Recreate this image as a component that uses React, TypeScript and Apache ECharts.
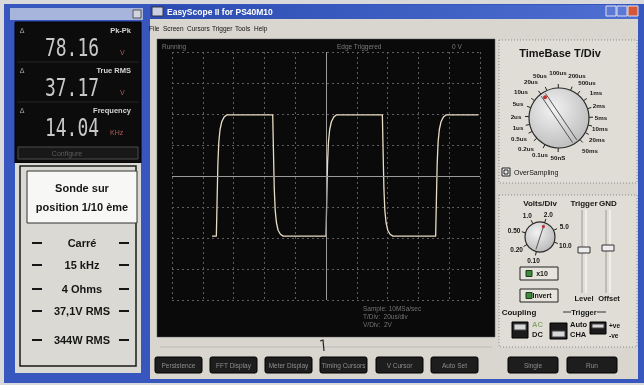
import React, { useEffect, useRef } from "react";
import * as echarts from "echarts";

// ---------- data ----------
// oscilloscope trace: time (µs, 20 µs/div) and volts (20 V/div with x10 probe)
const traceTimeUs = [
  26, 28.8, 29.3, 29.8, 30.4, 31.2, 32.3, 33.8, 35.5,
  65.4, 65.9, 66.4, 67.0, 67.8, 68.9, 70.4, 72.2,
  100.0, 100.5, 101.0, 101.6, 102.4, 103.5, 105.0, 106.7,
  136.6, 137.1, 137.6, 138.2, 139.0, 140.1, 141.6, 143.4,
  171.2, 171.7, 172.2, 172.8, 173.6, 174.7, 176.2, 177.9,
  199,
];
const traceVolts = [
  -38.8, -38.8, -15, 8, 22, 30, 35, 38, 39.4,
  39.4, 15, -8, -22, -30, -35, -37.6, -38.8,
  -38.8, -15, 8, 22, 30, 35, 38, 39.4,
  39.4, 15, -8, -22, -30, -35, -37.6, -38.8,
  -38.8, -15, 8, 22, 30, 35, 38, 39.4,
  39.4,
];
const timeAxis = { min: 0, max: 200, interval: 20 };
const voltAxis = { min: -80, max: 80, interval: 20 };
const triggerTimeUs = 100;

const readoutLabels = ["Pk-Pk", "True RMS", "Frequency"];
const readoutValues = ["78.16", "37.17", "14.04"];
const readoutUnits = ["V", "V", "KHz"];
const probeNote = ["Sonde sur", "position 1/10 ème"];
const signalNotes = ["Carré", "15 kHz", "4 Ohms", "37,1V RMS", "344W RMS"];
const menuItems = ["File", "Screen", "Cursors", "Trigger", "Tools", "Help"];
const bottomButtons = ["Persistence", "FFT Display", "Meter Display", "Timing Cursors", "V Cursor", "Auto Set"];
const runButtons = ["Single", "Run"];
const timeBaseLabels = ["0.1us", "0.2us", "0.5us", "1us", "2us", "5us", "10us", "20us", "50us", "100us", "200us", "500us", "1ms", "2ms", "5ms", "10ms", "20ms", "50ms", "50nS"];
const voltsLabels = ["0.10", "0.20", "0.50", "1.0", "2.0", "5.0", "10.0"];
const scopeStatus = ["Running", "Edge Triggered", "0 V"];
const scopeInfo = ["Sample: 10MSa/sec", "T/Div:  20us/div", "V/Div:  2V"];

// ---------- layout ----------
const UI = "'Liberation Sans', Arial, sans-serif";
const menuX = [149, 163, 187, 212, 235, 254];
const noteY = [243, 265, 289, 311, 340];
const btnX = [155, 210, 265, 320, 376, 431];
const runBtnX = [508, 567];
// label offsets around the TimeBase knob (from knob centre)
const timeBaseLabelPos = [
  [-19, 36], [-33, 30], [-40, 20], [-41, 9], [-43, -2], [-41, -15], [-38, -27], [-28, -37],
  [-19, -43], [-1, -46], [18, -43], [28, -36], [37, -26], [40, -13], [42, -1], [41, 10],
  [38, 21], [31, 32], [-1, 39],
];

function R(x: number, y: number, w: number, h: number, fill: any, stroke?: string, lw = 1, r = 0, z = 0, dash?: number[]) {
  return {
    type: "rect", silent: true, z,
    shape: { x, y, width: w, height: h, r },
    style: { fill, stroke: stroke || null, lineWidth: stroke ? lw : 0, lineDash: dash || null },
  };
}
function T(text: string, x: number, y: number, size: number, fill: string, o: any = {}) {
  const align = o.align || "center";
  return {
    type: "text", silent: true, z: o.z ?? 1, x, y,
    scaleX: o.scaleX ?? 1, scaleY: o.scaleY ?? 1,
    style: {
      text, fill,
      font: `${o.bold ? "bold " : ""}${size}px ${o.family || UI}`,
      textAlign: align, textVerticalAlign: "middle", align, verticalAlign: "middle",
    },
  };
}
function L(x1: number, y1: number, x2: number, y2: number, stroke: string, lw = 1, z = 1, dash?: number[]) {
  return { type: "line", silent: true, z, shape: { x1, y1, x2, y2 }, style: { stroke, lineWidth: lw, lineDash: dash || null } };
}
function C(cx: number, cy: number, r: number, fill: any, stroke?: string, lw = 1, z = 1) {
  return { type: "circle", silent: true, z, shape: { cx, cy, r }, style: { fill, stroke: stroke || null, lineWidth: stroke ? lw : 0 } };
}

function buildGraphics() {
  const g: any[] = [];
  const rad = (d: number) => (d * Math.PI) / 180;

  // page & left window
  g.push(R(0, 0, 644, 385, "#d9d9dc"));
  g.push(R(4, 4, 143, 379, "#3857be"));
  g.push(R(10, 8, 133, 12, "#a7b4dc"));
  g.push(R(133, 10, 8, 8, "#d0d4e0", "#555"));
  // readout panel
  g.push(R(15, 22, 126, 141, "#0c0c0c", "#000"));
  g.push(L(17, 62, 139, 62, "#262626"));
  g.push(L(17, 102, 139, 102, "#262626"));
  readoutLabels.forEach((lab, i) => {
    const by = 22 + i * 40;
    g.push(T("Δ", 22, by + 8, 7, "#a8a8a8"));
    g.push(T(lab, 131, by + 8.5, 7.5, "#d6d6d6", { align: "right", bold: true }));
    g.push(T(readoutValues[i], 72, by + 25.5, 18, "#c8c8c8", { family: "'DejaVu Sans Mono', monospace", scaleY: 1.35 }));
    g.push(T(readoutUnits[i], i === 2 ? 110 : 120, by + 30.5, 7, "#b45a5a", { align: "left" }));
  });
  g.push(R(18, 147, 120, 12, "#181818", "#4c4c4c"));
  g.push(T("Configure", 67, 153, 7, "#5e5e5e"));

  // lower left note panel
  g.push(R(15, 163, 126, 210, "#dad9d3"));
  g.push(R(20, 166, 116, 200, "none", "#1a1a1a", 1.5));
  g.push(R(27, 171, 110, 52, "#f7f7f5", "#333", 1));
  g.push(T(probeNote[0], 82, 188, 11, "#161616", { bold: true }));
  g.push(T(probeNote[1], 82, 207, 11, "#161616", { bold: true }));
  signalNotes.forEach((s, i) => {
    const y = noteY[i];
    g.push(T(s, 82, y, 11, "#161616", { bold: true }));
    g.push(L(32, y, 42, y, "#161616", 2));
    g.push(L(119, y, 129, y, "#161616", 2));
  });

  // main window
  g.push(R(146, 4, 498, 379, "#3857be"));
  g.push(R(150, 5, 488, 14, new echarts.graphic.LinearGradient(0, 0, 1, 0, [
    { offset: 0, color: "#2a4bb0" }, { offset: 1, color: "#4f70d2" },
  ])));
  g.push(R(152, 7, 11, 9, "#c8d0e2", "#334"));
  g.push(T("EasyScope II for PS40M10", 167, 12, 8.5, "#ffffff", { align: "left", bold: true }));
  g.push(R(606, 6, 10, 10, "#5b79d4", "#dde"));
  g.push(R(617, 6, 10, 10, "#5b79d4", "#dde"));
  g.push(R(628, 6, 10, 10, "#d4573a", "#dde"));
  g.push(R(150, 19, 488, 360, "#d8d6ce"));
  menuItems.forEach((m, i) => g.push(T(m, menuX[i], 28, 6.5, "#111", { align: "left" })));

  // scope screen
  g.push(R(157, 39, 338, 298, "#0a0a0a", "#555", 0.5, 0, 0));
  g.push(T(scopeStatus[0], 162, 46, 6.5, "#7c7c7c", { align: "left", z: 5 }));
  g.push(T(scopeStatus[1], 337, 46, 6.5, "#7c7c7c", { align: "left", z: 5 }));
  g.push(T(scopeStatus[2], 452, 46, 6.5, "#7c7c7c", { align: "left", z: 5 }));
  scopeInfo.forEach((s, i) => g.push(T(s, 363, 308 + i * 8, 6.5, "#727272", { align: "left", z: 5 })));
  g.push(L(160, 347, 492, 347, "#bdbbb3"));
  g.push({ type: "polyline", silent: true, z: 2, shape: { points: [[320, 341], [323, 340], [324, 351]] }, style: { stroke: "#222", lineWidth: 1.2, fill: "none" } });

  // bottom buttons
  bottomButtons.forEach((b, i) => {
    g.push(R(btnX[i], 357, 47, 16, "#1d1d1d", "#000", 1, 2));
    g.push(T(b, btnX[i] + 23.5, 365, 6.5, "#8e8e8e"));
  });
  runButtons.forEach((b, i) => {
    g.push(R(runBtnX[i], 357, 50, 16, "#1d1d1d", "#000", 1, 2));
    g.push(T(b, runBtnX[i] + 25, 365, 6.5, "#8e8e8e"));
  });

  // TimeBase panel
  g.push(R(499, 40, 138, 143, "#dfddd5", "#8a8a8a", 1, 0, 0, [1, 2]));
  g.push(T("TimeBase T/Div", 560, 53, 11, "#151515", { bold: true }));
  const tcx = 559, tcy = 118;
  timeBaseLabels.forEach((lab, k) => {
    const [dx, dy] = timeBaseLabelPos[k];
    const a = Math.atan2(dy, dx);
    g.push(L(tcx + 30 * Math.cos(a), tcy + 30 * Math.sin(a), tcx + 34 * Math.cos(a), tcy + 34 * Math.sin(a), "#222", 1));
    g.push(T(lab, tcx + dx, tcy + dy, 6.2, "#151515", { bold: true }));
  });
  g.push(C(tcx, tcy, 30, new echarts.graphic.RadialGradient(0.4, 0.35, 0.8, [
    { offset: 0, color: "#f2f2f2" }, { offset: 1, color: "#b4b4b4" },
  ]), "#2a2a2a", 1.2, 2));
  {
    const a = rad(236), px = -Math.sin(a) * 2.5, py = Math.cos(a) * 2.5;
    const ux = Math.cos(a) * 28, uy = Math.sin(a) * 28;
    g.push(L(tcx + ux + px, tcy + uy + py, tcx - ux + px, tcy - uy + py, "#555", 1, 3));
    g.push(L(tcx + ux - px, tcy + uy - py, tcx - ux - px, tcy - uy - py, "#555", 1, 3));
    g.push(C(tcx + Math.cos(a) * 25, tcy + Math.sin(a) * 25, 2, "#c03030", undefined, 1, 4));
  }
  g.push(R(502, 168, 8, 8, "#ececec", "#222"));
  g.push(R(504, 170, 4, 4, "none", "#222"));
  g.push(T("OverSampling", 514, 172, 7, "#151515", { align: "left" }));

  // Volts / trigger panel
  g.push(R(499, 195, 138, 152, "#dfddd5", "#8a8a8a", 1, 0, 0, [1, 2]));
  g.push(T("Volts/Div", 540, 203, 8, "#151515", { bold: true }));
  g.push(T("Trigger", 584, 203, 8, "#151515", { bold: true }));
  g.push(T("GND", 608, 203, 8, "#151515", { bold: true }));
  const vcx = 540, vcy = 237;
  voltsLabels.forEach((lab, k) => {
    const a = rad(104 + 46 * k);
    g.push(L(vcx + 15 * Math.cos(a), vcy + 15 * Math.sin(a), vcx + 19 * Math.cos(a), vcy + 19 * Math.sin(a), "#222", 1));
    g.push(T(lab, vcx + 27 * Math.cos(a), vcy + 24 * Math.sin(a), 6.5, "#151515", { bold: true }));
  });
  g.push(C(vcx, vcy, 15, new echarts.graphic.RadialGradient(0.4, 0.35, 0.8, [
    { offset: 0, color: "#f2f2f2" }, { offset: 1, color: "#b0b0b0" },
  ]), "#2a2a2a", 1.2, 2));
  {
    const a = rad(288);
    g.push(L(vcx + Math.cos(a) * 13, vcy + Math.sin(a) * 13, vcx - Math.cos(a) * 13, vcy - Math.sin(a) * 13, "#555", 1, 3));
    g.push(C(vcx + Math.cos(a) * 11, vcy + Math.sin(a) * 11, 1.6, "#c03030", undefined, 1, 4));
  }
  // x10 / Invert buttons
  [["x10", 267], ["Invert", 289]].forEach(([lab, y]: any) => {
    g.push(R(520, y, 38, 13, "#e6e4dc", "#222", 1));
    g.push(R(526, y + 3.5, 6, 6, "#3c8c3c", "#1b3b1b"));
    g.push(T(lab, 542, y + 6.5, 7, "#151515", { bold: true }));
  });
  // sliders
  [584, 608].forEach((x, i) => {
    g.push(L(x - 2, 210, x - 2, 293, "#9a9a9a"));
    g.push(L(x + 2, 210, x + 2, 293, "#ffffff"));
    g.push(R(x - 6, i === 0 ? 247 : 245, 12, 6, "#ececec", "#333", 1, 0, 2));
  });
  g.push(T("Level", 584, 298, 7.5, "#151515", { bold: true }));
  g.push(T("Offset", 609, 298, 7.5, "#151515", { bold: true }));
  g.push(T("Coupling", 519, 312, 8, "#151515", { bold: true }));
  g.push(T("Trigger", 584, 312, 7.5, "#151515", { bold: true }));
  g.push(L(563, 312, 571, 312, "#333"));
  g.push(L(597, 312, 606, 312, "#333"));
  // switches
  g.push(R(512, 322, 16, 16, "#1b1b1b", "#000"));
  g.push(R(514, 324, 12, 6, "#d8d8d8", "#444"));
  g.push(T("AC", 532, 324, 7.5, "#8aa870", { align: "left", bold: true }));
  g.push(T("DC", 532, 334, 7.5, "#151515", { align: "left", bold: true }));
  g.push(R(550, 323, 17, 16, "#1b1b1b", "#000"));
  g.push(R(552, 331, 13, 6, "#d8d8d8", "#444"));
  g.push(T("Auto", 570, 324, 7.5, "#151515", { align: "left", bold: true }));
  g.push(T("CHA", 570, 334, 7.5, "#151515", { align: "left", bold: true }));
  g.push(R(590, 322, 16, 12, "#1b1b1b", "#000"));
  g.push(R(592, 324, 12, 4, "#d8d8d8", "#444"));
  g.push(T("+ve", 609, 325, 6.5, "#151515", { align: "left", bold: true }));
  g.push(T("-ve", 609, 335, 6.5, "#151515", { align: "left", bold: true }));
  return g;
}

function buildOption(): any {
  const data = traceTimeUs.map((t, i) => [t, traceVolts[i]]);
  const split = { show: true, lineStyle: { color: "#5e5e5e", type: [2, 3], width: 1 } };
  return {
    animation: false,
    backgroundColor: "transparent",
    grid: { left: 172, top: 52, width: 308, height: 248, show: false },
    xAxis: {
      type: "value", ...timeAxis, z: 1,
      axisLabel: { show: false }, axisTick: { show: false }, axisLine: { show: false },
      splitLine: split,
    },
    yAxis: {
      type: "value", ...voltAxis, z: 1,
      axisLabel: { show: false }, axisTick: { show: false }, axisLine: { show: false },
      splitLine: split,
    },
    graphic: { elements: buildGraphics() },
    series: [
      {
        type: "line",
        data,
        symbol: "none",
        showSymbol: false,
        z: 3,
        lineStyle: { color: "#e8ddc4", width: 1.3 },
        markLine: {
          silent: true,
          symbol: ["none", "none"],
          label: { show: false },
          lineStyle: { color: "#9a9a9a", type: "solid", width: 1 },
          data: [{ xAxis: triggerTimeUs }, { yAxis: 0 }],
        },
      },
    ],
  };
}

export default function App() {
  const ref = useRef<HTMLDivElement>(null);
  useEffect(() => {
    const chart = echarts.init(ref.current as HTMLDivElement, null, { renderer: "svg" });
    chart.setOption(buildOption());
    return () => chart.dispose();
  }, []);
  return <div ref={ref} style={{ position: "fixed", left: 0, top: 0, width: 644, height: 385 }} />;
}
